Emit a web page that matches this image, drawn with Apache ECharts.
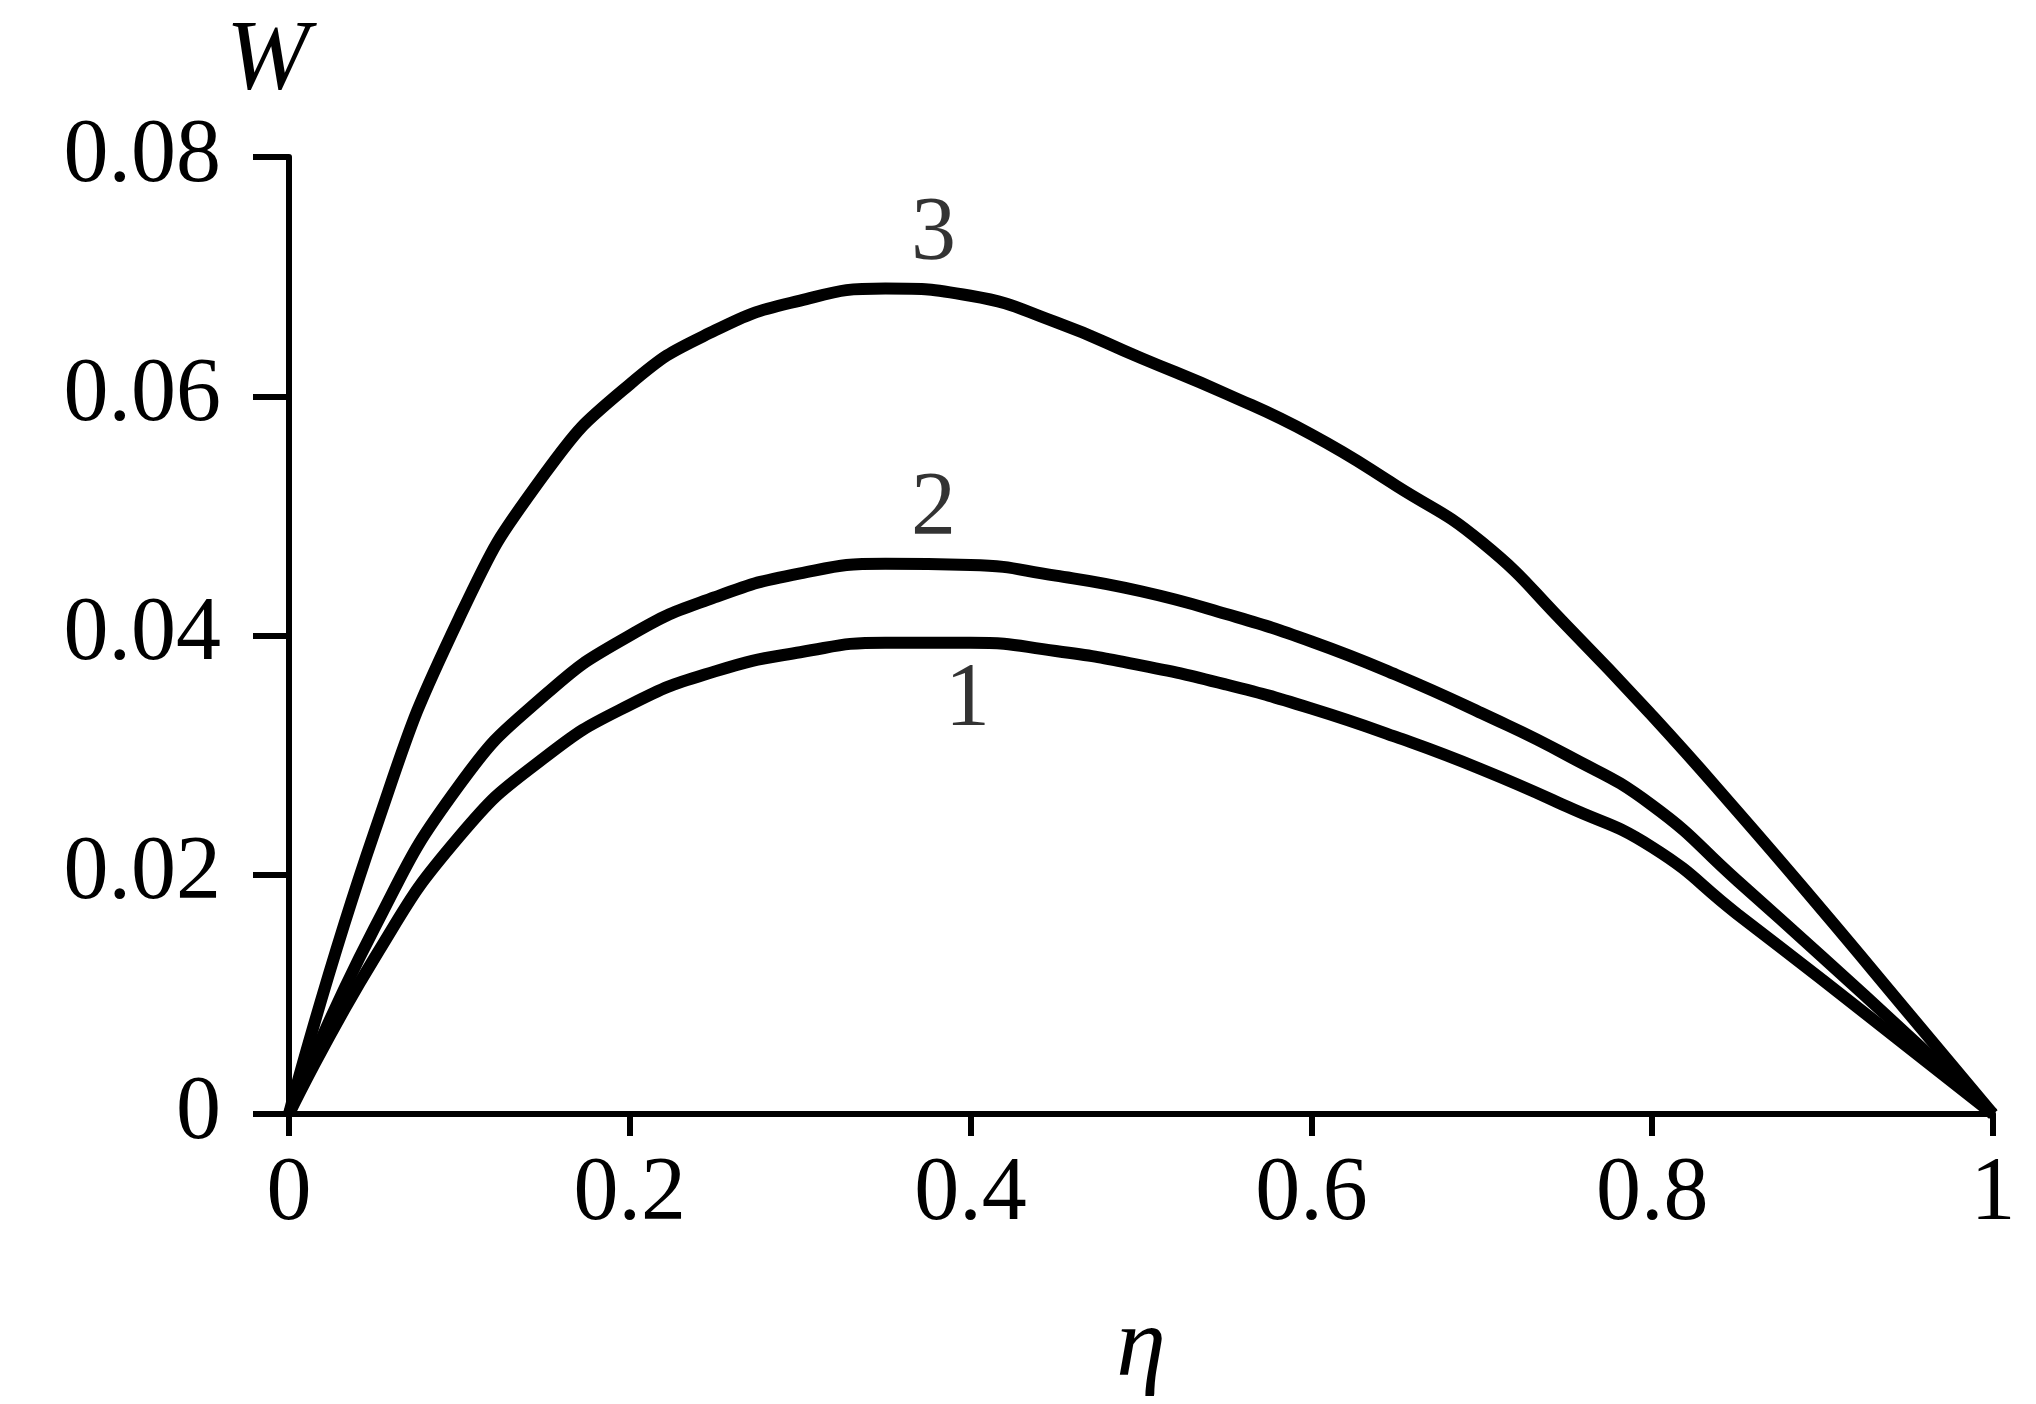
<!DOCTYPE html>
<html><head><meta charset="utf-8">
<script src="https://cdn.jsdelivr.net/npm/echarts@6/dist/echarts.min.js"></script>
<style>html,body{margin:0;padding:0;background:#fff}#c{width:2036px;height:1404px}</style>
</head><body><div id="c"></div>
<script>
const eta = [0,0.05,0.1,0.15,0.2,0.25,0.3,0.35,0.4,0.45,0.5,0.55,0.6,0.65,0.7,0.75,0.8,0.85,0.9,0.95,1];
const curve1 = [0,0.0130,0.0232,0.0298,0.0342,0.0370,0.0386,0.0394,0.0394,0.0387,0.0375,0.0359,0.0339,0.0315,0.0288,0.0257,0.0223,0.0167,0.0112,0.0056,0];
const curve2 = [0,0.0155,0.0275,0.0350,0.0400,0.0432,0.0452,0.0460,0.0459,0.0450,0.0437,0.0418,0.0395,0.0367,0.0335,0.0300,0.0258,0.0195,0.0131,0.0066,0];
const curve3 = [0,0.0235,0.0415,0.0535,0.0610,0.0655,0.0680,0.0690,0.0684,0.0662,0.0632,0.0602,0.0568,0.0525,0.0478,0.0408,0.0333,0.0253,0.0170,0.0085,0];
const curveNames = ['1', '2', '3'];
const labelEta = [0.39, 0.37, 0.37];
const labelW = [0.0395, 0.046, 0.069];
const font = 'Liberation Serif';
const fs = 90;
function line(vals) {
  return {type: 'line', smooth: true, symbol: 'none',
    lineStyle: {color: '#000', width: 12}, data: vals.map((v, i) => [eta[i], v])};
}
const chart = echarts.init(document.getElementById('c'));
chart.setOption({
  animation: false,
  grid: {left: 289, right: 43, top: 157, bottom: 267},
  xAxis: {type: 'value', min: 0, max: 1, interval: 0.2,
    name: 'η', nameLocation: 'middle', nameGap: 185,
    nameTextStyle: {fontFamily: font, fontStyle: 'italic', fontSize: 100, color: '#000'},
    axisLine: {lineStyle: {color: '#000', width: 6}},
    axisTick: {length: 22, lineStyle: {color: '#000', width: 6}},
    axisLabel: {fontFamily: font, fontSize: fs, color: '#000', margin: 36,
      formatter: v => String(v)},
    splitLine: {show: false}},
  yAxis: {type: 'value', min: 0, max: 0.08, interval: 0.02,
    axisLine: {show: true, lineStyle: {color: '#000', width: 6}},
    axisTick: {show: true, length: 36, lineStyle: {color: '#000', width: 6}},
    axisLabel: {fontFamily: font, fontSize: fs, color: '#000', margin: 68,
      formatter: v => v === 0 ? '0' : v.toFixed(2)},
    splitLine: {show: false}},
  graphic: [{type: 'text', left: 226, top: 12,
    style: {text: 'W', fontFamily: font, fontStyle: 'italic', fontSize: 100, fill: '#000'}}],
  series: [line(curve1), line(curve2), line(curve3), {
    type: 'scatter', symbolSize: 1, itemStyle: {color: 'rgba(0,0,0,0)'},
    data: curveNames.map((n, i) => ({value: [labelEta[i], labelW[i]], name: n,
      label: {show: true, formatter: n, position: i === 0 ? 'bottom' : 'top',
        distance: i === 0 ? 14 : 8, offset: [14, 0],
        fontFamily: font, fontSize: fs, color: '#000'}}))
  }]
});
</script></body></html>
